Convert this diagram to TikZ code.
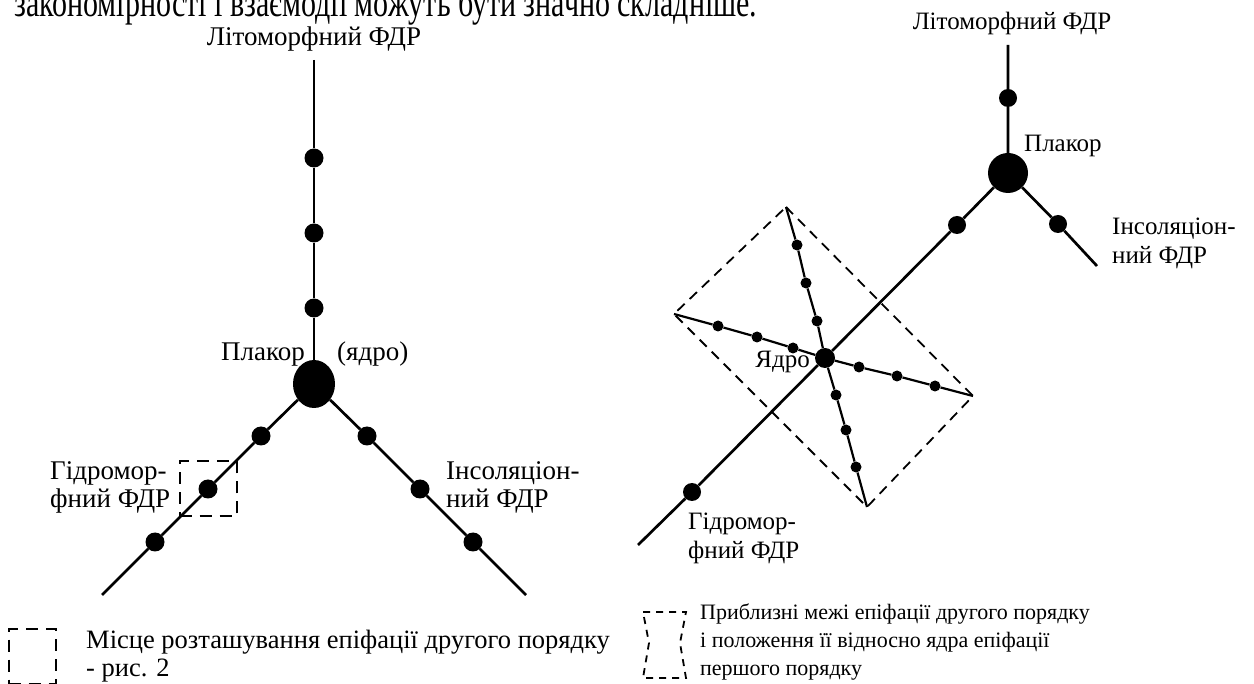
\documentclass[tikz,border=0pt]{standalone}
\usepackage{fontspec}
\setmainfont{Liberation Serif}
\usetikzlibrary{shapes.geometric}

\begin{document}
\begin{tikzpicture}[x=1pt,y=-1pt,
  dot/.style={circle,fill=black,inner sep=0pt,minimum size=19pt},
  sdot/.style={circle,fill=black,inner sep=0pt,minimum size=11pt},
  lbl/.style={inner sep=0pt,font=\fontsize{27}{28}\selectfont,align=left},
  rlbl/.style={lbl,font=\fontsize{25}{29}\selectfont},
  leg/.style={inner sep=0pt,font=\fontsize{22}{28}\selectfont,align=left},
  axis/.style={line width=2.7pt},
  ray/.style={line width=2.2pt},
  frame/.style={draw,line width=2pt,dash pattern=on 12pt off 8pt}]
  \fill[white] (0,0) rectangle (1254,684);
  \useasboundingbox (0,0) rectangle (1254,684);
  \begin{scope}
    \clip (0,0) rectangle (1254,684);
    \begin{scope}[yscale=1.35]
      \node[lbl,anchor=base west,font=\fontsize{30}{32}\selectfont,transform shape] (prev) at (14,12) {закономірності і взаємодії можуть бути значно складніше.};
    \end{scope}
  \end{scope}

  % left scheme
  \node[lbl,anchor=base] (lit1) at (314,46) {Літоморфний ФДР};
  \coordinate (top1) at (314,60);
  \node[dot] (v3) at (314,158) {};
  \node[dot] (v2) at (314,233) {};
  \node[dot] (v1) at (314,308) {};
  \node[ellipse,fill=black,inner sep=0pt,minimum width=42pt,minimum height=48pt] (core1) at (314,384) {};
  \node[lbl,anchor=base east] (plk1) at (305,361) {Плакор};
  \node[lbl,anchor=base west] (yad1) at (337,361) {(ядро)};
  \node[dot] (h1) at (261,436) {};
  \node[frame,inner sep=0pt,minimum width=57pt,minimum height=55pt] (epi1) at (208,489) {};
  \node[dot] (h2) at (208,489) {};
  \node[dot] (h3) at (155,542) {};
  \coordinate (hend1) at (102,595);
  \node[dot] (i1) at (367,436) {};
  \node[dot] (i2) at (420,489) {};
  \node[dot] (i3) at (473,542) {};
  \coordinate (iend1) at (526,595);
  \node[lbl,anchor=west] (hyd1) at (50,487) {Гідромор-\\фний ФДР};
  \node[lbl,anchor=west] (ins1) at (446,487) {Інсоляціон-\\ний ФДР};
  \draw[axis] (top1) -- (v3) -- (v2) -- (v1) -- (core1);
  \draw[axis] (core1) -- (h1) -- (h2) -- (h3) -- (hend1);
  \draw[axis] (core1) -- (i1) -- (i2) -- (i3) -- (iend1);

  % right scheme
  \node[rlbl,anchor=base] (lit2) at (1012,30) {Літоморфний ФДР};
  \coordinate (top2) at (1008,45);
  \node[dot,minimum size=18pt] (w1) at (1008,98) {};
  \node[dot,minimum size=40pt] (core2) at (1008,173) {};
  \node[rlbl,anchor=base west] (plk2) at (1024,152) {Плакор};
  \node[dot,minimum size=18pt] (j1) at (1058,224) {};
  \coordinate (jend2) at (1097,266);
  \node[rlbl,anchor=west] (ins2) at (1112,243) {Інсоляціон-\\ний ФДР};
  \node[dot,minimum size=18pt] (g1) at (957,225) {};
  \node[dot,minimum size=20pt] (yadro) at (825,358) {};
  \node[rlbl,anchor=east] (yad2) at (810,362) {Ядро};
  \node[dot,minimum size=18pt] (g2) at (692,492) {};
  \coordinate (gend2) at (638,545);
  \node[rlbl,anchor=west] (hyd2) at (688,538) {Гідромор-\\фний ФДР};
  \draw[axis] (top2) -- (w1) -- (core2) -- (j1) -- (jend2);
  \draw[axis] (core2) -- (g1) -- (yadro) -- (g2) -- (gend2);

  % second order
  \coordinate (kl) at (674,314);
  \coordinate (kr) at (973,396);
  \coordinate (kt) at (786,207);
  \coordinate (kb) at (867,507);
  \node[sdot] (a1) at (793,348) {};
  \node[sdot] (a2) at (757,337) {};
  \node[sdot] (a3) at (718,326) {};
  \node[sdot] (a4) at (859,367) {};
  \node[sdot] (a5) at (897,376) {};
  \node[sdot] (a6) at (935,386) {};
  \node[sdot] (b1) at (817,321) {};
  \node[sdot] (b2) at (806,283) {};
  \node[sdot] (b3) at (797,245) {};
  \node[sdot] (b4) at (836,395) {};
  \node[sdot] (b5) at (846,430) {};
  \node[sdot] (b6) at (856,467) {};
  \draw[ray] (kl) -- (a3) -- (a2) -- (a1) -- (yadro) -- (a4) -- (a5) -- (a6) -- (kr);
  \draw[ray] (kt) -- (b3) -- (b2) -- (b1) -- (yadro) -- (b4) -- (b5) -- (b6) -- (kb);
  \draw[frame,line width=1.8pt,dash pattern=on 10pt off 7pt] (kt) -- (kr) -- (kb) -- (kl) -- cycle;

  % legend
  \node[frame,inner sep=0pt,minimum width=47pt,minimum height=55pt] (key1) at (32,656) {};
  \node[lbl,anchor=west,font=\fontsize{26.5}{28}\selectfont] (txt1) at (86,656) {Місце розташування епіфації другого порядку\\- рис. 2};
  \draw[frame,line width=1.8pt,dash pattern=on 7pt off 6pt] (643,612) -- (686,612) -- (680,643) -- (686,678) -- (643,678) -- (649,643) -- cycle;
  \node[leg,anchor=west] (txt2) at (700,642) {Приблизні межі епіфації другого порядку\\і положення її відносно ядра епіфації\\першого порядку};
\end{tikzpicture}
\end{document}
